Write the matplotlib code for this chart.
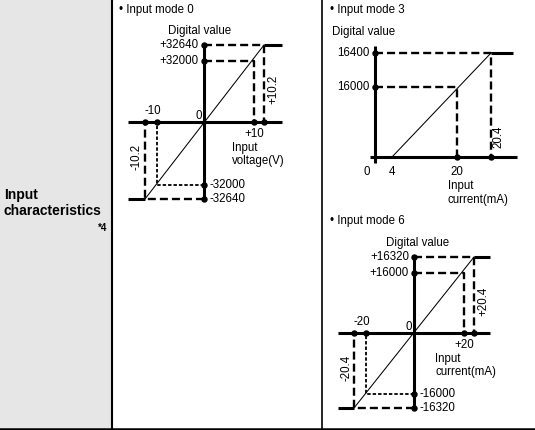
import numpy as np
import matplotlib
matplotlib.use('Agg')
import matplotlib.pyplot as plt

W, H = 535, 430
plt.rcParams['font.family'] = ['Liberation Sans', 'DejaVu Sans']
FS = 8.3

# Input mode 0: input voltage (V) -> digital value
m0_volt = [-10.2, -10, 0, 10, 10.2]
m0_digital = [-32640, -32000, 0, 32000, 32640]

# Input mode 3: input current (mA) -> digital value
m3_current = [0, 4, 20, 20.4]
m3_digital = [0, 16000, 16400]

# Input mode 6: input current (mA) -> digital value
m6_current = [-20.4, -20, 0, 20, 20.4]
m6_digital = [-16320, -16000, 0, 16000, 16320]

# Schematic layout (not to scale): pixel spot of each value on the page
m0_xpx = [128, 145, 157, 204, 254, 264, 282]
m0_ypx = [199, 185, 122, 61, 45]
m3_xpx = [370, 375, 392, 457, 491, 517]
m3_ypx = [163, 157, 87, 53, 46]
m6_xpx = [338, 354, 366, 414, 464, 474, 490]
m6_ypx = [408, 394, 333, 273, 257]

AXIS = dict(color='black', lw=2.2, solid_capstyle='butt', clip_on=False)
DIAG = dict(color='black', lw=0.75, clip_on=False)
LONG = dict(color='black', lw=1.7, dashes=(3.4, 1.7), clip_on=False)
SHORT = dict(color='black', lw=1.3, dashes=(1.9, 1.1), clip_on=False)
DOT = dict(ls='none', marker='o', ms=3.6, color='black', clip_on=False, zorder=5)

fig = plt.figure(figsize=(W / 100, H / 100), dpi=100)

# table background
bg = fig.add_axes([0, 0, 1, 1])
bg.set_xlim(0, W)
bg.set_ylim(H, 0)
bg.axis('off')
bg.add_patch(plt.Rectangle((0, 0), 111, H, color='#e6e6e6', lw=0))
bg.plot([112, 112], [0, H], color='black', lw=1.5)
bg.plot([322, 322], [0, H], color='black', lw=1.2)
bg.plot([0, W], [428.5, 428.5], color='black', lw=1.8)
bg.text(4, 195, 'Input', fontsize=10, fontweight='bold', va='center')
bg.text(4, 211, 'characteristics', fontsize=10, fontweight='bold', va='center')
bg.text(107, 228, '*4', fontsize=7, fontweight='bold', va='center', ha='right')
bg.text(119, 10, '\u2022 Input mode 0', fontsize=FS, va='center')
bg.text(330, 10, '\u2022 Input mode 3', fontsize=FS, va='center')
bg.text(330, 221, '\u2022 Input mode 6', fontsize=FS, va='center')


def panel(xs, xpx, ys, ypx):
    xs = np.asarray(xs, float)
    ys = np.asarray(ys, float)
    xp = np.asarray(xpx, float)
    yp = -np.asarray(ypx, float)
    ax = fig.add_axes([xp[0] / W, 1 - ypx[0] / H,
                       (xp[-1] - xp[0]) / W, (ypx[0] - ypx[-1]) / H])
    ax.set_xscale('function', functions=(lambda v: np.interp(v, xs, xp),
                                         lambda t: np.interp(t, xp, xs)))
    ax.set_yscale('function', functions=(lambda v: np.interp(v, ys, yp),
                                         lambda t: np.interp(t, yp, ys)))
    ax.set_xlim(xs[0], xs[-1])
    ax.set_ylim(ys[0], ys[-1])
    ax.axis('off')
    return ax


def note(ax, s, xy, dx, dy, ha='center', va='center', **kw):
    # dx, dy are pixel offsets, dy counted downwards
    ax.annotate(s, xy=xy, xytext=(dx, -dy), textcoords='offset pixels',
                ha=ha, va=va, fontsize=FS, annotation_clip=False, **kw)


def bipolar(ax, xv, yv, xext, unit, in_dx, sx):
    ax.plot(xext, [0, 0], **AXIS)
    ax.plot([0, 0], [yv[0], yv[-1]], **AXIS)
    ax.plot([xv[-1], xext[1]], [yv[-1], yv[-1]], **AXIS)
    ax.plot([xext[0], xv[0]], [yv[0], yv[0]], **AXIS)
    ax.plot([xv[0], xv[-1]], [yv[0], yv[-1]], **DIAG)
    ax.plot([0, xv[-1], xv[-1]], [yv[-1], yv[-1], 0], **LONG)
    ax.plot([0, xv[3], xv[3]], [yv[3], yv[3], 0], **LONG)
    ax.plot([0, xv[0], xv[0]], [yv[0], yv[0], 0], **LONG)
    ax.plot([0, xv[1], xv[1]], [yv[1], yv[1], 0], **SHORT)
    ax.plot([0, 0, 0, 0], [yv[0], yv[1], yv[3], yv[4]], **DOT)
    ax.plot([xv[0], xv[1], xv[3], xv[4]], [0, 0, 0, 0], **DOT)

    note(ax, 'Digital value', (0, yv[-1]), sx, -14)
    for v in (yv[-1], yv[3]):
        note(ax, f'{v:+d}', (0, v), -5, 0, ha='right')
    for v in (yv[1], yv[0]):
        note(ax, f'{v:+d}', (0, v), 5, 0, ha='left')
    note(ax, f'{xv[1]:+g}', (xv[1], 0), -4, -11)
    note(ax, '0', (0, 0), -5, -6)
    note(ax, f'{xv[3]:+g}', (xv[3], 0), 0, 12)
    note(ax, 'Input', (xv[3], 0), in_dx, 26, ha='left')
    note(ax, unit, (xv[3], 0), in_dx, 39, ha='left')
    note(ax, f'{xv[-1]:+g}', (xv[-1], yv[-1]), 9, 44, rotation=90)
    note(ax, f'{xv[0]:+g}', (xv[0], 0), -8, 35, rotation=90)


# Input mode 0
ax0 = panel([-11] + m0_volt + [11], m0_xpx, m0_digital, m0_ypx)
bipolar(ax0, m0_volt, m0_digital, (-11, 11), 'voltage(V)', -22, -4)

# Input mode 6
ax6 = panel([-22] + m6_current + [22], m6_xpx, m6_digital, m6_ypx)
bipolar(ax6, m6_current, m6_digital, (-22, 22), 'current(mA)', -29, 4)

# Input mode 3
ax3 = panel([-1] + m3_current + [23], m3_xpx,
            [-1000] + m3_digital + [17000], m3_ypx)
ax3.plot([-1, 23], [0, 0], **AXIS)
ax3.plot([0, 0], [-1000, 17000], **AXIS)
ax3.plot([m3_current[3], 22.6], [m3_digital[2]] * 2, **AXIS)
ax3.plot([m3_current[1], m3_current[3]], [0, m3_digital[2]], **DIAG)
ax3.plot([0, m3_current[3], m3_current[3]], [m3_digital[2], m3_digital[2], 0], **LONG)
ax3.plot([0, m3_current[2], m3_current[2]], [m3_digital[1], m3_digital[1], 0], **LONG)
ax3.plot([0, 0], m3_digital[1:], **DOT)
ax3.plot(m3_current[2:], [0, 0], **DOT)
note(ax3, 'Digital value', (0, 17000), -43, -14, ha='left')
for v in m3_digital[1:]:
    note(ax3, str(v), (0, v), -5, 0, ha='right')
note(ax3, '0', (0, 0), -8, 15)
for v in m3_current[1:3]:
    note(ax3, f'{v:g}', (v, 0), 0, 15)
note(ax3, 'Input', (m3_current[2], 0), -9, 29, ha='left')
note(ax3, 'current(mA)', (m3_current[2], 0), -10, 43, ha='left')
note(ax3, f'{m3_current[3]:g}', (m3_current[3], 0), 7, -20, rotation=90)

fig.savefig('out.png', dpi=100)
